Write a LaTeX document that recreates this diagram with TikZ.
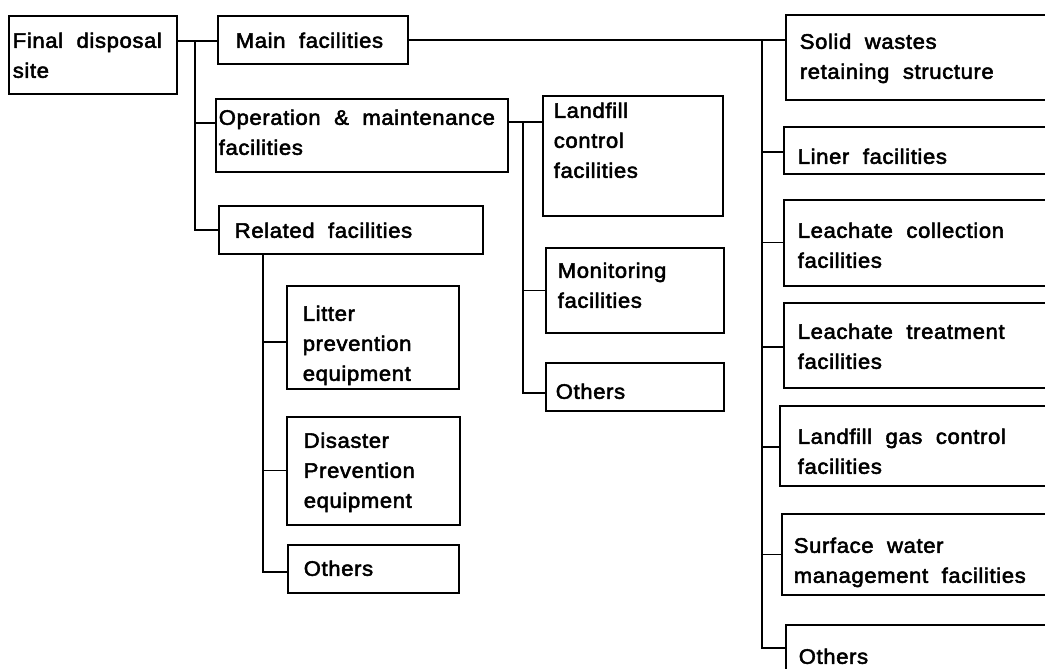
\documentclass[tikz,border=0pt]{standalone}
\usepackage{fontspec}
\setmainfont[FakeStretch=1.05,LetterSpace=3,WordSpace=2,FakeBold=2.5]{Liberation Sans}
\usetikzlibrary{calc}
% #1 width, #2 height, #3 left padding, #4 gap above first text line, #5 text
\newcommand{\mybxt}[5]{\parbox[c][#2pt][t]{#1pt}{\vspace*{#4pt}\noindent\hspace*{#3pt}\begin{tabular}[t]{@{}l@{}}#5\end{tabular}}}
\tikzset{
  bx/.style={draw, line width=1.6pt, rectangle, anchor=north west, inner sep=0pt,
    font=\fontsize{21}{30}\selectfont},
  trunk/.style={line width=2.4pt},
  br/.style={line width=1.2pt},
}
\begin{document}
\begin{tikzpicture}[x=1pt,y=-1pt]
\useasboundingbox (0,0) rectangle (1045,669);
\clip (0,0) rectangle (1045,669);
% left column
\node[bx] (fds) at (8,15) {\mybxt{168}{78}{4}{11}{Final disposal\\site}};
\node[bx] (mainf) at (217,15) {\mybxt{190}{48}{18}{11}{Main facilities}};
\node[bx] (om) at (215,98) {\mybxt{292}{73}{3}{5}{Operation \& maintenance\\facilities}};
\node[bx] (rel) at (218,205) {\mybxt{264}{48}{16}{11}{Related facilities}};
% related sub boxes
\node[bx] (lit) at (286,285) {\mybxt{172}{103}{16}{14}{Litter\\prevention\\equipment}};
\node[bx] (dis) at (286,416) {\mybxt{173}{108}{17}{10}{Disaster\\Prevention\\equipment}};
\node[bx] (oth1) at (287,544) {\mybxt{171}{48}{16}{10}{Others}};
% O&M sub boxes
\node[bx] (lcf) at (542,95) {\mybxt{180}{120}{11}{1}{Landfill\\control\\facilities}};
\node[bx] (mon) at (545,247) {\mybxt{178}{85}{12}{9}{Monitoring\\facilities}};
\node[bx] (oth2) at (545,362) {\mybxt{178}{48}{10}{15}{Others}};
% main facilities sub boxes
\node[bx] (sw) at (785,14) {\mybxt{320}{85}{14}{13}{Solid wastes\\retaining structure}};
\node[bx] (lin) at (783,126) {\mybxt{320}{47}{14}{16}{Liner facilities}};
\node[bx] (lc) at (783,199) {\mybxt{320}{86}{14}{17}{Leachate collection\\facilities}};
\node[bx] (lt) at (783,302) {\mybxt{320}{85}{14}{15}{Leachate treatment\\facilities}};
\node[bx] (lg) at (779,405) {\mybxt{320}{80}{18}{17}{Landfill gas control\\facilities}};
\node[bx] (sfw) at (781,513) {\mybxt{320}{81}{12}{18}{Surface water\\management facilities}};
\node[bx] (oth3) at (785,624) {\mybxt{320}{60}{13}{18}{Others}};
% trunk x positions
\coordinate (ta) at (195,0);
\coordinate (tb) at (762,0);
\coordinate (tc) at (523,0);
\coordinate (td) at (263,0);
% connection points
\coordinate (mainin) at ($(mainf.north west)+(0,26)$);
\coordinate (omin) at ($(om.north west)+(0,25)$);
\coordinate (mainout) at ($(mainf.north east)+(0,25)$);
\coordinate (linin) at ($(lin.north west)+(0,26)$);
\coordinate (ltin) at ($(lt.north west)+(0,45)$);
\coordinate (lgin) at ($(lg.north west)+(0,42)$);
\coordinate (o3in) at ($(oth3.north west)+(0,24)$);
\coordinate (omout) at ($(om.north east)+(0,24)$);
\coordinate (o2in) at ($(oth2.north west)+(0,31)$);
\coordinate (litin) at ($(lit.north west)+(0,57)$);
\coordinate (o1in) at ($(oth1.north west)+(0,28)$);
% level 1
\draw[br] (fds.east |- mainin) -- (mainin);
\draw[trunk] (ta |- mainin) -- (ta |- rel.west) -- (rel.west);
\draw[br] (ta |- omin) -- (omin);
% main facilities branch
\draw[br] (mainout) -- (sw.west |- mainout);
\draw[trunk] (tb |- mainout) -- (tb |- o3in) -- (o3in);
\draw[br] (tb |- linin) -- (linin);
\draw[br] (tb |- lc.west) -- (lc.west);
\draw[br] (tb |- ltin) -- (ltin);
\draw[br] (tb |- lgin) -- (lgin);
\draw[br] (tb |- sfw.west) -- (sfw.west);
% O&M branch
\draw[br] (omout) -- (lcf.west |- omout);
\draw[trunk] (tc |- omout) -- (tc |- o2in) -- (o2in);
\draw[br] (tc |- mon.west) -- (mon.west);
% related branch
\draw[trunk] (td |- rel.south) -- (td |- o1in) -- (o1in);
\draw[br] (td |- litin) -- (litin);
\draw[br] (td |- dis.west) -- (dis.west);
\end{tikzpicture}
\end{document}
